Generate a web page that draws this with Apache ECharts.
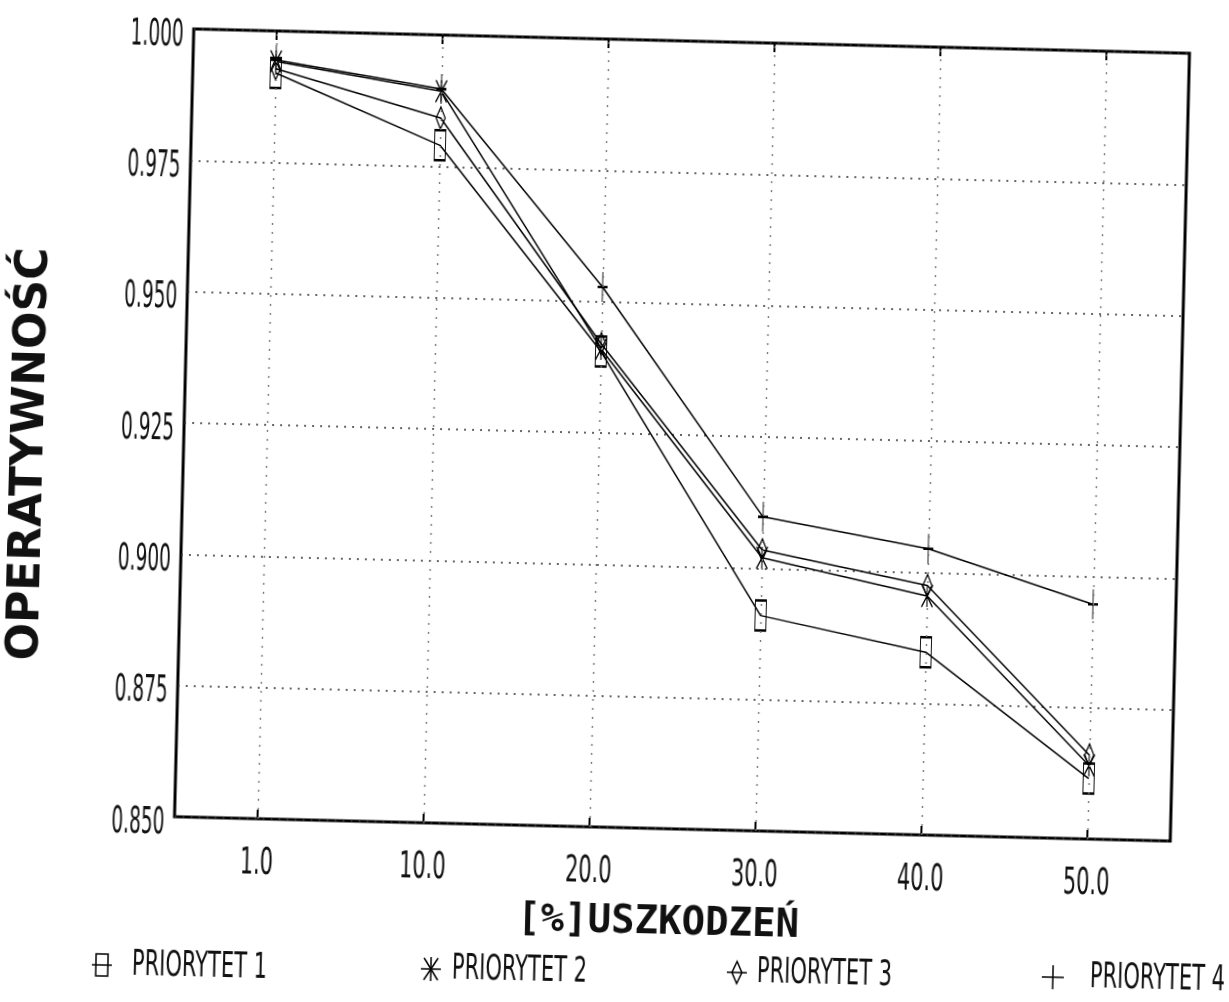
<!DOCTYPE html>
<html>
<head>
<meta charset="utf-8">
<script src="https://cdn.jsdelivr.net/npm/echarts@6/dist/echarts.min.js"></script>
<style>
  html, body { margin: 0; padding: 0; background: #fff; overflow: hidden; width: 1229px; height: 1002px; }
  #chart { width: 1280px; height: 1040px; background: #fff; transform: rotate(1.4deg); transform-origin: 682px 435px; }
</style>
</head>
<body>
<div id="chart"></div>
<script>
// Operatywność systemu w funkcji procentu uszkodzeń, dla czterech priorytetów
const categories = ['1.0', '10.0', '20.0', '30.0', '40.0', '50.0'];
const priorytet1 = [0.9920, 0.9790, 0.9405, 0.8910, 0.8848, 0.8615];
const priorytet2 = [0.9942, 0.9893, 0.9410, 0.9020, 0.8955, 0.8640];
const priorytet3 = [0.9928, 0.9842, 0.9420, 0.9035, 0.8975, 0.8660];
const priorytet4 = [0.9945, 0.9897, 0.9528, 0.9098, 0.9045, 0.8947];
const yTicks = [0.850, 0.875, 0.900, 0.925, 0.950, 0.975, 1.000];
const seriesNames = ['PRIORYTET 1', 'PRIORYTET 2', 'PRIORYTET 3', 'PRIORYTET 4'];
const xTitle = '[%]USZKODZEŃ';
const yTitle = 'OPERATYWNOŚĆ';

// plotter-style lettering: tall glyphs squeezed horizontally
const plotFont = '"DejaVu Sans", sans-serif';
const ink = '#111';

// marker shapes (tall, as drawn by the plotter)
const markerBox = 'path://M0,0H10V28H0Z';
const markerStar = 'path://M0,0L10,20M10,0L0,20M5,0V20';
const markerDiamond = 'path://M5,0L10,11L5,22L0,11Z';
const markerPlus = 'path://M5,0V30M0,15H10';

const plotBox = { left: 184, top: 41, width: 996, height: 788 };

const chart = echarts.init(document.getElementById('chart'), null, { renderer: 'canvas' });

function makeSeries(name, values, symbol, size, extra) {
  return Object.assign({
    name: name,
    type: 'line',
    data: values,
    symbol: symbol,
    symbolSize: size,
    showAllSymbol: true,
    lineStyle: { color: '#000', width: 1.5 },
    itemStyle: { color: 'rgba(0,0,0,0)', borderColor: '#000', borderWidth: 1.5 },
    emphasis: { disabled: true },
    z: 3
  }, extra || {});
}

const option = {
  animation: false,
  backgroundColor: '#fff',
  grid: {
    left: plotBox.left, top: plotBox.top, width: plotBox.width, height: plotBox.height,
    show: true, borderColor: '#000', borderWidth: 3, backgroundColor: '#fff'
  },
  xAxis: [
    {
      type: 'category',
      data: categories,
      boundaryGap: true,
      position: 'bottom',
      axisLine: { show: false },
      axisTick: { show: true, inside: true, alignWithLabel: true, length: 9, lineStyle: { color: '#000', width: 2 } },
      axisLabel: { show: false },
      splitLine: { show: false },
      name: xTitle,
      nameLocation: 'middle',
      nameGap: 75,
      nameTextStyle: { fontFamily: '"DejaVu Sans Mono", monospace', fontWeight: 'bold', fontSize: 39, color: ink, padding: [0, 24, 0, 0] }
    },
    {
      type: 'category',
      data: categories,
      boundaryGap: true,
      position: 'top',
      axisLine: { show: false },
      axisTick: { show: true, inside: true, alignWithLabel: true, length: 9, lineStyle: { color: '#000', width: 2 } },
      axisLabel: { show: false },
      splitLine: { show: false }
    }
  ],
  yAxis: {
    type: 'value',
    min: yTicks[0],
    max: yTicks[yTicks.length - 1],
    interval: 0.025,
    axisLine: { show: false },
    axisTick: { show: false },
    axisLabel: { show: false },
    splitLine: { show: true, lineStyle: { color: '#333', width: 1.5, type: [2, 6] } }
  },
  series: [
    makeSeries(seriesNames[0], priorytet1, markerBox, [11, 30], {
      // vertical dotted grid through each category
      markLine: {
        silent: true,
        symbol: ['none', 'none'],
        label: { show: false },
        emphasis: { disabled: true },
        lineStyle: { color: '#777', width: 1.4, type: [2, 7] },
        data: categories.map(function (c) { return { xAxis: c }; })
      }
    }),
    makeSeries(seriesNames[1], priorytet2, markerStar, [11, 22]),
    makeSeries(seriesNames[2], priorytet3, markerDiamond, [9, 22]),
    makeSeries(seriesNames[3], priorytet4, markerPlus, [10, 30])
  ]
};

chart.setOption(option);

// Tick labels and legend in narrow plotter lettering, placed from the axis scales
const elements = [];
const plotBottom = plotBox.top + plotBox.height;
const strokeStyle = { fill: 'none', stroke: '#000', lineWidth: 1.5 };

yTicks.forEach(function (v) {
  const py = chart.convertToPixel({ yAxisIndex: 0 }, v);
  elements.push({
    type: 'text', silent: true,
    x: plotBox.left - 10, y: py + 7, scaleX: 0.5,
    style: { text: v.toFixed(3), font: '37px ' + plotFont, fill: ink, align: 'right', verticalAlign: 'middle' }
  });
});

categories.forEach(function (c) {
  const px = chart.convertToPixel({ xAxisIndex: 0 }, c);
  elements.push({
    type: 'text', silent: true,
    x: px, y: plotBottom + 45, scaleX: 0.55,
    style: { text: c, font: '38px ' + plotFont, fill: ink, align: 'center', verticalAlign: 'middle' }
  });
});

// y-axis title, reading upwards
elements.push({
  type: 'text', silent: true,
  x: 32, y: 470, rotation: Math.PI / 2,
  style: { text: yTitle, font: 'bold 44px ' + plotFont, fill: ink, align: 'center', verticalAlign: 'middle' }
});

// legend keys: the series marker with a short line through it
function seg(x1, y1, x2, y2) {
  return { type: 'line', silent: true, shape: { x1: x1, y1: y1, x2: x2, y2: y2 }, style: strokeStyle };
}
const legendKeys = [
  function (cx, cy) {
    return [seg(cx - 10, cy, cx + 10, cy),
      { type: 'rect', silent: true, shape: { x: cx - 6, y: cy - 11, width: 12, height: 22 }, style: strokeStyle }];
  },
  function (cx, cy) {
    return [seg(cx - 10, cy, cx + 10, cy), seg(cx - 7, cy - 11, cx + 7, cy + 11),
      seg(cx + 7, cy - 11, cx - 7, cy + 11), seg(cx, cy - 12, cx, cy + 12)];
  },
  function (cx, cy) {
    return [seg(cx - 10, cy, cx + 10, cy),
      { type: 'polygon', silent: true, shape: { points: [[cx, cy - 11], [cx + 5, cy], [cx, cy + 11], [cx - 5, cy]] }, style: strokeStyle }];
  },
  function (cx, cy) {
    return [seg(cx - 11, cy, cx + 11, cy), seg(cx, cy - 12, cx, cy + 12)];
  }
];
const legendSlots = [
  { iconX: 115, textX: 145, y: 979 },
  { iconX: 444, textX: 465, y: 975 },
  { iconX: 750, textX: 770, y: 971 },
  { iconX: 1066, textX: 1103, y: 968 }
];
legendSlots.forEach(function (slot, i) {
  legendKeys[i](slot.iconX, slot.y).forEach(function (el) { elements.push(el); });
  elements.push({
    type: 'text', silent: true,
    x: slot.textX, y: slot.y, scaleX: 0.6,
    style: { text: seriesNames[i], font: '35px ' + plotFont, fill: ink, align: 'left', verticalAlign: 'middle' }
  });
});

chart.setOption({ graphic: elements });
</script>
</body>
</html>
